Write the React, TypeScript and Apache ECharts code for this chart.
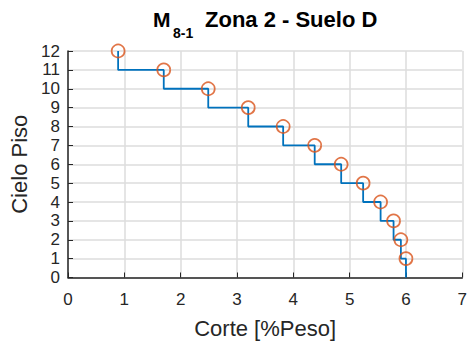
import React, { useEffect, useRef } from "react";
import * as echarts from "echarts";

const floors = [1, 2, 3, 4, 5, 6, 7, 8, 9, 10, 11, 12];
const corte = [6.0, 5.91, 5.78, 5.55, 5.24, 4.85, 4.38, 3.82, 3.2, 2.49, 1.7, 0.89];
const xTicks = [0, 1, 2, 3, 4, 5, 6, 7];
const yTicks = [0, 1, 2, 3, 4, 5, 6, 7, 8, 9, 10, 11, 12];
const titleMain = "M";
const titleSub = "8-1";
const titleRest = "Zona 2 - Suelo D";
const xName = "Corte [%Peso]";
const yName = "Cielo Piso";

const FONT = "'Liberation Sans', Arial, Helvetica, sans-serif";
const TXT = "#262626";

export default function App() {
  const ref = useRef<HTMLDivElement>(null);
  useEffect(() => {
    if (!ref.current) return;
    const chart = echarts.init(ref.current, null, { renderer: "svg" });
    // build the step path from the data arrays
    const stepPts: number[][] = [];
    for (let i = floors.length - 1; i >= 0; i--) {
      stepPts.push([corte[i], floors[i]]);
      stepPts.push([corte[i], floors[i] - 1]);
    }
    const pts = floors.map((f, i) => [corte[i], f]);
    chart.setOption({
      animation: false,
      textStyle: { fontFamily: FONT },
      grid: { left: 68, right: 6, top: 51, bottom: 67.5, containLabel: false },
      graphic: [
        {
          type: "text",
          left: 153,
          top: 9,
          style: { text: titleMain, font: `bold 21px ${FONT}`, fill: "#000" },
        },
        {
          type: "text",
          left: 173,
          top: 26,
          style: { text: titleSub, font: `bold 14px ${FONT}`, fill: "#000" },
        },
        {
          type: "text",
          left: 205,
          top: 8.5,
          style: { text: titleRest, font: `bold 22px ${FONT}`, fill: "#000" },
        },
      ],
      xAxis: {
        type: "value",
        min: xTicks[0],
        max: xTicks[xTicks.length - 1],
        interval: 1,
        name: xName,
        nameLocation: "middle",
        nameGap: 40,
        nameTextStyle: { fontSize: 22, color: TXT, fontFamily: FONT },
        axisLine: { show: true, onZero: false, lineStyle: { color: TXT, width: 1.5 } },
        axisTick: { show: true, inside: true, length: 5, lineStyle: { color: TXT, width: 1 } },
        axisLabel: { fontSize: 17, color: TXT, margin: 13, fontFamily: FONT },
        splitLine: { show: true, lineStyle: { color: "#dcdcdc", width: 1.5 } },
      },
      yAxis: {
        type: "value",
        min: yTicks[0],
        max: yTicks[yTicks.length - 1],
        interval: 1,
        name: yName,
        nameLocation: "middle",
        nameGap: 35,
        nameTextStyle: { fontSize: 22, color: TXT, fontFamily: FONT },
        axisLine: { show: true, onZero: false, lineStyle: { color: TXT, width: 1.5 } },
        axisTick: { show: true, inside: true, length: 5, lineStyle: { color: TXT, width: 1 } },
        axisLabel: { fontSize: 17, color: TXT, margin: 8, fontFamily: FONT },
        splitLine: { show: true, lineStyle: { color: "#dcdcdc", width: 1.5 } },
      },
      series: [
        {
          type: "line",
          data: stepPts,
          showSymbol: false,
          symbol: "none",
          lineStyle: { color: "#0072BD", width: 1.8 },
          z: 2,
        },
        {
          type: "scatter",
          data: pts,
          symbol: "circle",
          symbolSize: 13,
          itemStyle: { color: "rgba(0,0,0,0)", borderColor: "#D95319", borderWidth: 1.7 },
          z: 3,
        },
      ],
    });
    return () => chart.dispose();
  }, []);
  return (
    <div
      ref={ref}
      style={{ position: "fixed", left: 0, top: 0, width: 470, height: 345, background: "#fff" }}
    />
  );
}
